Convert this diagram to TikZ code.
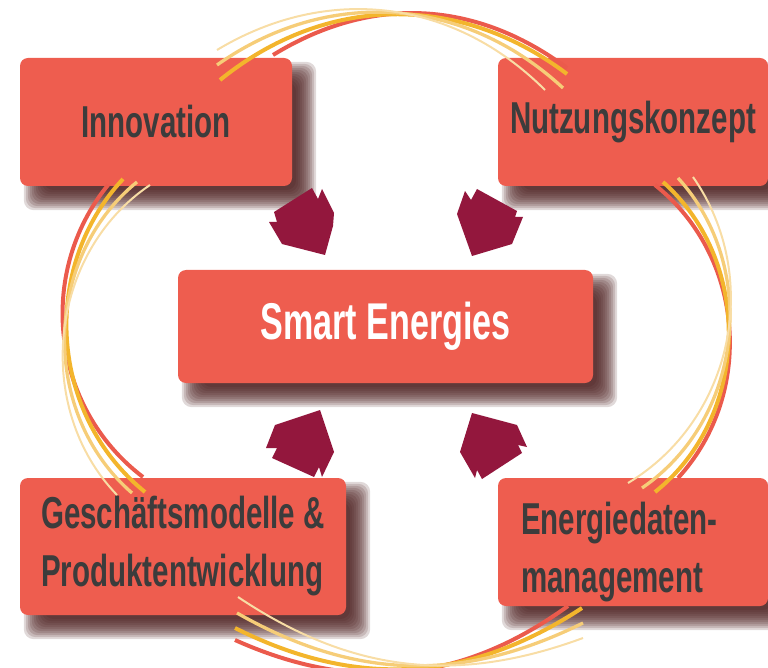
\documentclass[tikz,border=0pt]{standalone}
\usepackage[usenames,dvipsnames]{xcolor}
\usepackage{fontspec}
\usepackage{tikz}
\usetikzlibrary{backgrounds}
\newfontfamily\boxfont{Liberation Sans}[FakeStretch=0.66]
\definecolor{boxred}{HTML}{EE5D4F}
\definecolor{arrowred}{HTML}{93173D}
\definecolor{shadowbrown}{HTML}{4A1C1C}
\definecolor{textgray}{HTML}{3C3C3C}
\definecolor{strandred}{HTML}{EB5A4C}
\definecolor{strandyellow}{HTML}{F3B52C}
\definecolor{strandlight}{HTML}{F6CD78}
\definecolor{strandpale}{HTML}{F8DDA5}

\begin{document}
\begin{tikzpicture}[x=1pt,y=-1pt,
   box/.style={fill=boxred,rounded corners=8,inner sep=0,text=textgray,
      font=\boxfont\bfseries\fontsize{44.7}{58}\selectfont},
   redline/.style={draw=strandred,line width=4},
   yelline/.style={draw=strandyellow,line width=4},
   lightline/.style={draw=strandlight,line width=3.3},
   paleline/.style={draw=strandpale,line width=2}]
   \useasboundingbox (0,0) rectangle (768,668);

   \draw (156,122) node[box,minimum width=272,minimum height=128] (innovation) {Innovation};
   \draw (633,122) node[box,minimum width=270,minimum height=128] (nutzung) {Nutzungskonzept};
   \draw (385.5,326.5) node[box,minimum width=415,minimum height=113,text=white,
      font=\boxfont\bfseries\fontsize{51.7}{60}\selectfont] (smart) {Smart Energies};
   \draw (183,546.5) node[box,minimum width=326,minimum height=137,align=left] (geschaeft)
      {Geschäftsmodelle \&\\Produktentwicklung};
   \draw (633,542) node[box,minimum height=128,align=left,text width=224,inner xsep=23] (energie)
      {\rule{0pt}{52pt}Energiedaten-\\management};

   \begin{scope}[on background layer]
    \foreach \n in {innovation,nutzung,smart,geschaeft,energie}
     \foreach \r in {0,...,10}
      \fill[shadowbrown,opacity=0.17,rounded corners=10]
        ([shift={(4+2*\r,4+2*\r)}]\n.north west) rectangle ([shift={(24-2*\r,24-2*\r)}]\n.south east);
   \end{scope}

    \fill[arrowred] (274,212) -- (312,188) -- (318,199) -- (322,189) -- (334,213) -- (333,226)
       -- (325,255) -- (282,244) -- (269,222) -- (277,222) -- cycle;
    \fill[arrowred] (465,191) -- (471,200) -- (477,189) -- (517,211) -- (515,217) -- (523,217)
       -- (512,244) -- (472,256) -- (457,214) -- cycle;
    \fill[arrowred] (320,410) -- (334,452) -- (322,477) -- (319,467) -- (314,477) -- (272,458)
       -- (277,448) -- (266,448) -- (275,425) -- cycle;
    \fill[arrowred] (472,413) -- (517,425) -- (527,447) -- (518,445) -- (522,453) -- (482,479)
       -- (477,470) -- (475,478) -- (460,452) -- cycle;

  \draw[redline] (273,55) to[bend left=34] (567,68);
  \draw[redline] (655,185) to[bend left=47] (678,478);
  \draw[redline] (108,185) to[bend right=46] (143,477);
  \draw[redline] (235,640) to[bend right=30] (568,606);

  \draw[yelline] (220,80) to[bend left=38] (567,74);
  \draw[yelline] (663,182) to[bend left=50] (655,492);
  \draw[yelline] (123,179) to[bend right=47] (145,492);
  \draw[yelline] (235,628) to[bend right=30] (582,608);

  \draw[lightline] (217,65) to[bend left=39] (563,88);
  \draw[lightline] (678,178) to[bend left=49] (642,488);
  \draw[lightline] (137,182) to[bend right=50] (132,493);
  \draw[lightline] (237,613) to[bend right=28] (583,623);

  \draw[paleline] (217,50) to[bend left=38] (545,90);
  \draw[paleline] (693,177) to[bend left=47] (628,483);
  \draw[paleline] (150,185) to[bend right=50] (117,495);
  \draw[paleline] (238,597) to[bend right=27] (583,638);

\end{tikzpicture}
\end{document}
